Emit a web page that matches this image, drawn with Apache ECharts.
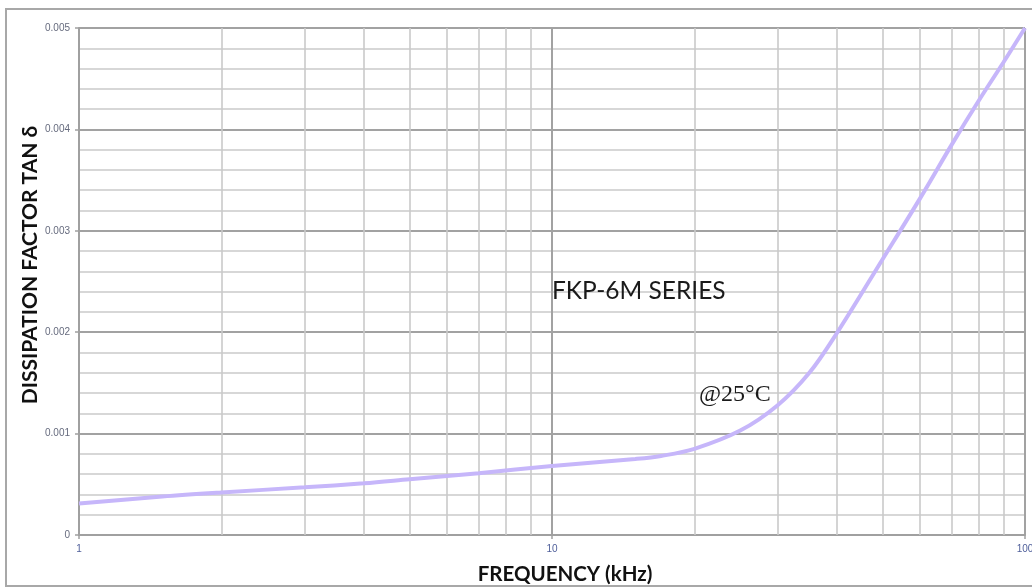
<!DOCTYPE html>
<html>
<head>
<meta charset="utf-8">
<script src="https://cdn.jsdelivr.net/npm/echarts@6/dist/echarts.min.js"></script>
<style>
html,body{margin:0;padding:0;background:#fff;}
#main{width:1032px;height:588px;}
</style>
</head>
<body>
<div id="main"></div>
<script>
// Frequency (kHz) and dissipation factor values
const frequencies = [1, 1.5, 2, 3, 4, 5, 7, 10, 15, 17, 20, 25, 30, 35, 40, 50, 60, 70, 80, 90, 100];
const tanDelta = [0.00031, 0.00038, 0.00042, 0.00047, 0.00051, 0.00055, 0.00061, 0.00068, 0.00075, 0.00078, 0.00085, 0.00103, 0.00128, 0.00160, 0.00199, 0.00272, 0.00332, 0.00385, 0.00429, 0.00466, 0.005];
const minorFreqTicks = [2, 3, 4, 5, 6, 7, 8, 9, 20, 30, 40, 50, 60, 70, 80, 90];
const yTickLabels = ['0', '0.001', '0.002', '0.003', '0.004', '0.005'];

const seriesData = frequencies.map((f, i) => [f, tanDelta[i]]);

const chart = echarts.init(document.getElementById('main'), null, {renderer: 'canvas'});
chart.setOption({
  animation: false,
  backgroundColor: '#ffffff',
  grid: {left: 79, top: 28, right: 7, bottom: 53, containLabel: false, outerBoundsMode: 'none'},
  xAxis: {
    type: 'log',
    logBase: 10,
    min: 1,
    max: 100,
    axisLine: {show: true, lineStyle: {color: '#a0a0a0', width: 2}},
    axisTick: {show: true, length: 4, lineStyle: {color: '#a0a0a0', width: 1.5}},
    axisLabel: {color: '#4f5f9a', fontSize: 10, fontFamily: 'Liberation Sans', margin: 9},
    splitLine: {show: true, lineStyle: {color: '#a2a2a2', width: 2}}
  },
  yAxis: {
    type: 'value',
    min: 0,
    max: 0.005,
    interval: 0.001,
    axisLine: {show: true, lineStyle: {color: '#a0a0a0', width: 2}},
    axisTick: {show: true, length: 4, lineStyle: {color: '#a0a0a0', width: 1.5}},
    axisLabel: {
      color: '#666b7e', fontSize: 10, fontFamily: 'Liberation Sans', margin: 9,
      formatter: (v) => yTickLabels[Math.round(v / 0.001)]
    },
    splitLine: {show: true, lineStyle: {color: '#a2a2a2', width: 2}},
    minorTick: {show: false, splitNumber: 5},
    minorSplitLine: {show: true, lineStyle: {color: '#cacaca', width: 1.6}}
  },
  series: [
    {
      type: 'line',
      data: seriesData,
      z: 1,
      silent: true,
      symbol: 'none',
      lineStyle: {opacity: 0},
      markLine: {
        silent: true,
        symbol: 'none',
        label: {show: false},
        animation: false,
        lineStyle: {color: '#cacaca', width: 1.6, type: 'solid'},
        data: minorFreqTicks.map(v => ({xAxis: v}))
      }
    },
    {
      type: 'line',
      data: seriesData,
      z: 5,
      smooth: 0.35,
      symbol: 'none',
      lineStyle: {color: '#c6b6fa', width: 4}
    }
  ],
  graphic: [
    {type: 'rect', shape: {x: 6, y: 9, width: 1040, height: 577}, style: {fill: 'none', stroke: '#a8a8a8', lineWidth: 2}, z: 0},
    {type: 'text', x: 565, y: 574, style: {text: 'FREQUENCY (kHz)', font: 'bold 20.5px Lato', fill: '#111', textAlign: 'center', textVerticalAlign: 'middle'}},
    {type: 'text', x: 30, y: 265, rotation: Math.PI / 2, style: {text: 'DISSIPATION FACTOR TAN δ', font: 'bold 21px Lato', fill: '#111', textAlign: 'center', textVerticalAlign: 'middle'}},
    {type: 'text', x: 552, y: 291, style: {text: 'FKP-6M SERIES', font: '24.5px Lato', fill: '#1a1a1a', textAlign: 'left', textVerticalAlign: 'middle'}, z: 10},
    {type: 'text', x: 699, y: 395, style: {text: '@25°C', font: '24px "Liberation Serif"', fill: '#1a1a1a', textAlign: 'left', textVerticalAlign: 'middle'}, z: 10}
  ]
});
</script>
</body>
</html>
